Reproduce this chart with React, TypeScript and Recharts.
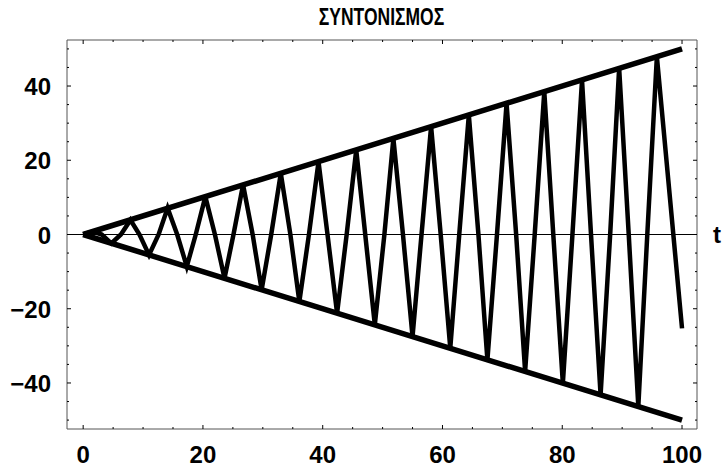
import React from "react";
import { LineChart, Line, XAxis, YAxis, ReferenceLine } from "recharts";

// oscillation: zero crossings and turning points
const timePoints = [
  0, 1.6, 3.1, 4.7, 6.3, 7.9, 9.4, 11.0, 12.6, 14.1, 15.7, 17.3, 18.8, 20.4,
  22.0, 23.6, 25.1, 26.7, 28.3, 29.8, 31.4, 33.0, 34.6, 36.1, 37.7, 39.3, 40.8,
  42.4, 44.0, 45.6, 47.1, 48.7, 50.3, 51.8, 53.4, 55.0, 56.5, 58.1, 59.7, 61.3,
  62.8, 64.4, 66.0, 67.5, 69.1, 70.7, 72.3, 73.8, 75.4, 77.0, 78.5, 80.1, 81.7,
  83.3, 84.8, 86.4, 88.0, 89.5, 91.1, 92.7, 94.2, 95.8, 100,
];
const displacement = [
  0, 0.8, 0, -2.4, 0, 3.9, 0, -5.5, 0, 7.1, 0, -8.6, 0, 10.2,
  0, -11.8, 0, 13.4, 0, -14.9, 0, 16.5, 0, -18.1, 0, 19.6, 0,
  -21.2, 0, 22.8, 0, -24.3, 0, 25.9, 0, -27.5, 0, 29.1, 0, -30.6,
  0, 32.2, 0, -33.8, 0, 35.3, 0, -36.9, 0, 38.5, 0, -40.1, 0,
  41.6, 0, -43.2, 0, 44.8, 0, -46.3, 0, 47.9, -25.3,
];

const envelopeT = [0, 100];
const envelopeUpper = [0, 50];
const envelopeLower = [0, -50];

const xTicks = [0, 5, 10, 15, 20, 25, 30, 35, 40, 45, 50, 55, 60, 65, 70, 75, 80, 85, 90, 95, 100];
const yTicks = [-50, -45, -40, -35, -30, -25, -20, -15, -10, -5, 0, 5, 10, 15, 20, 25, 30, 35, 40, 45, 50];

const oscillation = timePoints.map((t, i) => ({ t, x: displacement[i] }));
const upper = envelopeT.map((t, i) => ({ t, x: envelopeUpper[i] }));
const lower = envelopeT.map((t, i) => ({ t, x: envelopeLower[i] }));

const FONT = "'Liberation Sans', Arial, sans-serif";
const labelStyle = { fontFamily: FONT, fontWeight: 700, fontSize: 24, fill: "#000" };
const FRAME = "#555";

const fmt = (v: number) => (v < 0 ? `\u2212${Math.abs(v)}` : `${v}`);
const isMajor = (v: number) => v % 20 === 0;

const BottomTick = ({ x, y, payload }: any) => {
  const major = isMajor(payload.value);
  return (
    <g>
      <line x1={x} y1={y} x2={x} y2={y - (major ? 4 : 2)} stroke="#000" />
      {major && (
        <text x={x} y={y + 34} textAnchor="middle" style={labelStyle}>
          {fmt(payload.value)}
        </text>
      )}
    </g>
  );
};

const TopTick = ({ x, y, payload }: any) => (
  <line x1={x} y1={y} x2={x} y2={y + (isMajor(payload.value) ? 4 : 2)} stroke="#000" />
);

const LeftTick = ({ x, y, payload }: any) => {
  const major = isMajor(payload.value);
  return (
    <g>
      <line x1={x} y1={y} x2={x + (major ? 4 : 2)} y2={y} stroke="#000" />
      {major && (
        <text x={x - 16} y={y + 9} textAnchor="end" style={labelStyle}>
          {fmt(payload.value)}
        </text>
      )}
    </g>
  );
};

const RightTick = ({ x, y, payload }: any) => (
  <line x1={x} y1={y} x2={x - (isMajor(payload.value) ? 4 : 2)} y2={y} stroke="#000" />
);

export default function App() {
  return (
    <div style={{ position: "absolute", left: 0, top: 0, width: 723, height: 468, background: "#fff" }}>
      <div
        style={{
          position: "absolute",
          left: 67,
          top: 4,
          width: 629,
          textAlign: "center",
          fontFamily: FONT,
          fontWeight: 700,
          fontSize: 23,
          lineHeight: "26px",
          color: "#000",
        }}
      >
        <span style={{ display: "inline-block", transform: "scaleX(0.76)" }}>ΣΥΝΤΟΝΙΣΜΟΣ</span>
      </div>
      <LineChart width={723} height={468} margin={{ top: 40, right: 26, bottom: 0, left: 0 }}>
        <XAxis
          type="number"
          dataKey="t"
          domain={[-2.7, 102.5]}
          ticks={xTicks}
          interval={0}
          allowDataOverflow
          height={39}
          tickSize={0}
          tickMargin={0}
          tickLine={false}
          axisLine={{ stroke: FRAME }}
          tick={<BottomTick />}
        />
        <XAxis
          xAxisId="top"
          orientation="top"
          type="number"
          dataKey="t"
          domain={[-2.7, 102.5]}
          ticks={xTicks}
          interval={0}
          allowDataOverflow
          height={1}
          mirror
          tickSize={0}
          tickMargin={0}
          tickLine={false}
          axisLine={{ stroke: FRAME }}
          tick={<TopTick />}
        />
        <YAxis
          type="number"
          domain={[-52.4, 52.4]}
          ticks={yTicks}
          interval={0}
          allowDataOverflow
          width={67}
          tickSize={0}
          tickMargin={0}
          tickLine={false}
          axisLine={{ stroke: FRAME }}
          tick={<LeftTick />}
        />
        <YAxis
          yAxisId="right"
          orientation="right"
          type="number"
          domain={[-52.4, 52.4]}
          ticks={yTicks}
          interval={0}
          allowDataOverflow
          width={1}
          mirror
          tickSize={0}
          tickMargin={0}
          tickLine={false}
          axisLine={{ stroke: FRAME }}
          tick={<RightTick />}
        />
        <ReferenceLine
          y={0}
          stroke="#000"
          strokeWidth={1}
          label={{ value: "t", position: "right", offset: 16, style: labelStyle }}
        />
        {/* upper envelope sits on the mirrored top/right axes so the full frame gets drawn */}
        <Line
          data={upper}
          xAxisId="top"
          yAxisId="right"
          dataKey="x"
          type="linear"
          stroke="#000"
          strokeWidth={5.5}
          dot={false}
          activeDot={false}
          isAnimationActive={false}
        />
        <Line
          data={lower}
          dataKey="x"
          type="linear"
          stroke="#000"
          strokeWidth={5.5}
          dot={false}
          activeDot={false}
          isAnimationActive={false}
        />
        <Line
          data={oscillation}
          dataKey="x"
          type="linear"
          stroke="#000"
          strokeWidth={4.5}
          dot={false}
          activeDot={false}
          isAnimationActive={false}
        />
      </LineChart>
    </div>
  );
}
